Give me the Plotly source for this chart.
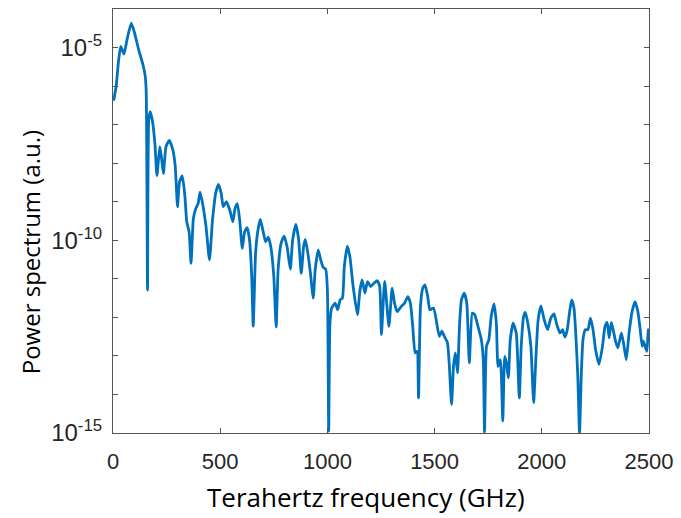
import plotly.graph_objects as go

# Frequency (GHz) and log10 of power spectrum (a.u.)
freq_ghz = [
    3, 15, 26, 36, 51, 66, 85, 100, 119, 139, 150, 155, 161, 167, 174, 185, 196, 205,
    218, 225, 235, 247, 262, 278, 290, 301, 310, 323, 335, 344, 355, 364, 375, 386,
    397, 406, 418, 434, 450, 464, 480, 492, 505, 514, 529, 545, 559, 569, 580, 591,
    603, 614, 626, 637, 647, 654, 665, 676, 687, 699, 712, 724, 736, 750, 761, 770,
    784, 798, 812, 827, 838, 853, 866, 878, 889, 897, 909, 921, 934, 943, 957, 969,
    980, 992, 1000, 1006, 1012, 1020, 1036, 1048, 1059, 1070, 1079, 1093, 1105, 1120,
    1140, 1152, 1162, 1175, 1187, 1202, 1218, 1233, 1244, 1252, 1267, 1287, 1302,
    1313, 1326, 1344, 1360, 1375, 1387, 1398, 1409, 1418, 1425, 1434, 1445, 1455,
    1468, 1478, 1495, 1522, 1534, 1545, 1560, 1568, 1579, 1588, 1597, 1607, 1616,
    1625, 1638, 1650, 1662, 1676, 1687, 1702, 1718, 1727, 1733, 1742, 1753, 1764,
    1777, 1788, 1796, 1807, 1818, 1827, 1835, 1844, 1853, 1866, 1881, 1895, 1904,
    1915, 1923, 1935, 1949, 1962, 1972, 1983, 1996, 2011, 2027, 2042, 2057, 2070,
    2085, 2097, 2108, 2119, 2128, 2139, 2150, 2159, 2168, 2176, 2184, 2192, 2203,
    2215, 2227, 2239, 2251, 2267, 2283, 2295, 2305, 2314, 2324, 2334, 2344, 2355,
    2371, 2381, 2394, 2407, 2421, 2435, 2448, 2459, 2468, 2474, 2482, 2490, 2497, 2500,
]
log_power = [
    -6.38, -5.99, -5.34, -4.97, -5.17, -4.78, -4.37, -4.61, -5.04, -5.43, -5.73, -6.16,
    -11.29, -6.85, -6.66, -6.94, -7.54, -8.32, -7.58, -7.80, -8.27, -7.58, -7.41,
    -7.63, -8.06, -9.13, -8.49, -8.33, -8.83, -9.52, -9.78, -10.60, -9.43, -9.18,
    -9.05, -8.75, -9.05, -9.65, -10.51, -9.48, -8.75, -8.55, -8.79, -9.13, -9.00,
    -9.22, -9.52, -9.18, -9.05, -9.48, -10.21, -9.78, -9.67, -10.00, -10.94, -12.23,
    -10.34, -9.74, -9.46, -9.74, -10.04, -9.92, -10.17, -10.94, -12.25, -10.77,
    -10.08, -9.89, -10.17, -10.75, -9.99, -9.59, -9.99, -10.86, -10.17, -9.98, -10.34,
    -10.86, -11.50, -10.77, -10.25, -10.51, -10.70, -10.75, -11.29, -14.95, -12.15,
    -11.76, -11.63, -11.80, -11.55, -11.50, -10.68, -10.15, -10.43, -11.20, -11.93,
    -11.29, -11.03, -11.37, -11.07, -11.20, -11.11, -11.05, -11.20, -12.45, -11.07,
    -12.23, -11.24, -11.63, -11.85, -11.72, -11.63, -11.46, -11.63, -12.23, -12.92,
    -12.88, -14.09, -11.72, -11.24, -11.16, -11.46, -11.80, -11.76, -12.49, -12.36,
    -12.49, -12.66, -13.18, -14.26, -13.27, -12.92, -13.44, -12.23, -11.55, -11.37,
    -11.63, -13.18, -11.89, -11.93, -12.23, -12.58, -13.10, -14.98, -12.75, -12.58,
    -11.98, -11.65, -12.15, -13.27, -13.10, -14.69, -13.01, -13.18, -13.57, -12.58,
    -12.15, -12.41, -14.09, -12.75, -11.98, -11.87, -12.15, -12.75, -14.21, -13.10,
    -12.06, -11.70, -12.06, -12.32, -12.02, -11.91, -12.19, -12.41, -12.32, -12.51,
    -12.32, -11.93, -11.55, -11.76, -12.49, -13.53, -15.00, -13.53, -12.58, -12.32,
    -12.32, -12.02, -12.32, -12.84, -13.22, -12.75, -12.23, -12.13, -12.53, -12.13,
    -12.35, -12.62, -12.79, -12.41, -12.66, -13.10, -12.41, -11.85, -11.59, -11.85,
    -12.32, -12.75, -12.62, -12.75, -12.88, -12.32, -12.30,
]
power = [10 ** v for v in log_power]

y_decades = list(range(-15, -3))
y_labels = [f"10<sup>{d}</sup>" if d in (-15, -10, -5) else "" for d in y_decades]
x_ticks = [0, 500, 1000, 1500, 2000, 2500]
x_title = "Terahertz frequency (GHz)"
y_title = "Power spectrum (a.u.)"

fig = go.Figure()
fig.add_trace(go.Scatter(
    x=freq_ghz, y=power, mode="lines",
    line=dict(color="#0072BD", width=2.8, shape="spline", smoothing=0.5),
    showlegend=False, hoverinfo="skip",
))

axis_common = dict(
    showline=True, linecolor="#555555", linewidth=1.2, mirror="ticks",
    ticks="inside", ticklen=5, tickcolor="#555555", tickwidth=1,
    showgrid=False, zeroline=False,
)

fig.update_layout(
    width=681, height=518,
    margin=dict(l=113, r=28, t=8, b=85),
    paper_bgcolor="white", plot_bgcolor="white",
    xaxis=dict(
        range=[0, 2500], tickvals=x_ticks, ticktext=[str(v) for v in x_ticks],
        ticklabelstandoff=8,
        tickfont=dict(family="Liberation Sans, Arial", size=22, color="#262626"),
        **axis_common,
    ),
    yaxis=dict(
        type="log", range=[-15, -4],
        tickvals=[10 ** d for d in y_decades], ticktext=y_labels,
        ticklabelstandoff=5,
        tickfont=dict(family="Liberation Sans, Arial", size=24, color="#262626"),
        **axis_common,
    ),
    annotations=[
        dict(text=x_title, xref="paper", yref="paper", x=0.472, y=-0.151,
             xanchor="center", yanchor="middle", showarrow=False,
             font=dict(family="Open Sans", size=26, color="#000000")),
        dict(text=y_title, xref="paper", yref="paper", x=-0.155, y=0.426,
             xanchor="center", yanchor="middle", showarrow=False, textangle=-90,
             font=dict(family="Open Sans", size=24, color="#000000")),
    ],
)

fig.write_html("out.html")
